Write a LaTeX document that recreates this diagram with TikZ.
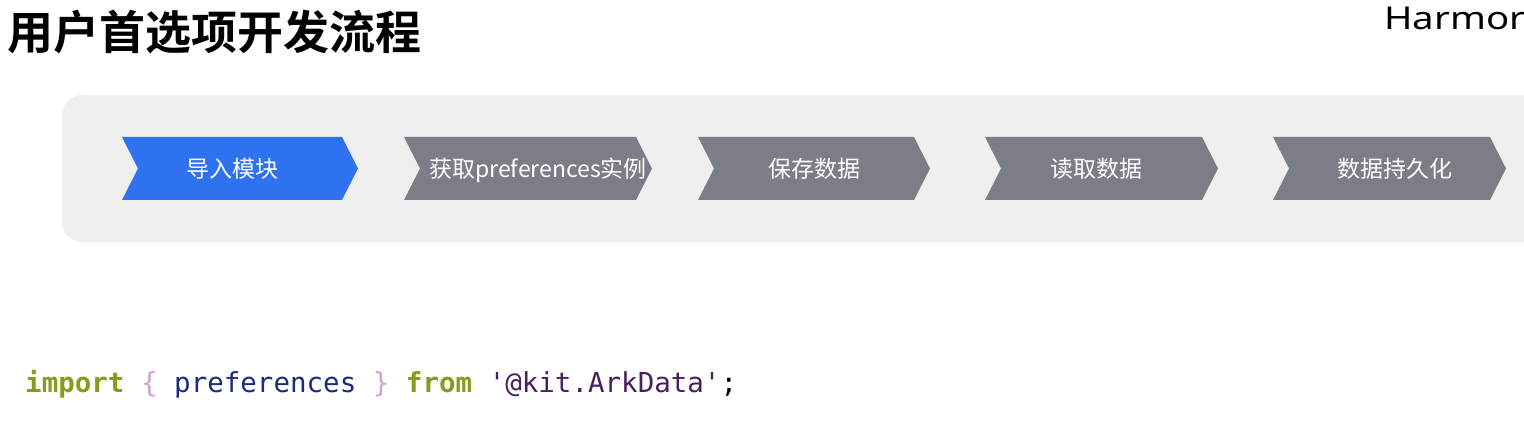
\documentclass[tikz,border=0pt]{standalone}
\usepackage{fontspec}
\setmainfont{Noto Sans}
\setmonofont{DejaVu Sans Mono}
\newfontfamily\cjk{Noto Sans CJK SC}
\newfontfamily\cjkbold{Noto Sans CJK SC Bold}
\definecolor{panelgray}{HTML}{EFEFF0}
\definecolor{stepblue}{HTML}{2F72F0}
\definecolor{stepgray}{HTML}{7B7E87}
\definecolor{kwolive}{HTML}{8A9A1E}
\definecolor{bracepink}{HTML}{D7A0CC}
\definecolor{identnavy}{HTML}{1C2B7A}
\definecolor{strpurple}{HTML}{4B1F5E}
\tikzset{
  steptext/.style={text=white, font=\cjk\fontsize{23}{23}\selectfont, inner sep=0pt, anchor=base},
  codetext/.style={font=\ttfamily\fontsize{27.5}{28}\selectfont, inner sep=0pt, anchor=base west}
}
\newcommand{\chevshape}[3]{%
  \fill[#3] (#1,137) -- ({#2-16},137) -- (#2,168.5) -- ({#2-16},200) -- (#1,200) -- ({#1+16},168.5) -- cycle;}
\begin{document}
\begin{tikzpicture}[x=1pt,y=-1pt]
\useasboundingbox (0,0) rectangle (1524,422);
\clip (0,0) rectangle (1524,422);
\fill[white] (0,0) rectangle (1524,422);
% title
\node[inner sep=0pt, anchor=base west, font=\cjkbold\fontsize{46}{46}\selectfont] (title) at (7,50) {用户首选项开发流程};
\node[inner sep=0pt, anchor=base west, font=\fontsize{31.5}{31.5}\selectfont, xscale=1.22] (brand) at (1384,29.5) {Harmor};
% panel
\fill[panelgray, rounded corners=20pt] (62,95) rectangle (1560,242);
% chevrons
\chevshape{122}{358}{stepblue}
\chevshape{404}{652}{stepgray}
\chevshape{698}{930}{stepgray}
\chevshape{985}{1218}{stepgray}
\chevshape{1273}{1506}{stepgray}
\node[steptext] (s1) at (232,178) {导入模块};
\node[steptext] (s2) at (538,178) {获取preferences实例};
\node[steptext] (s3) at (814,178) {保存数据};
\node[steptext] (s4) at (1096,178) {读取数据};
\node[steptext] (s5) at (1395,178) {数据持久化};
% code
\node[codetext] (code) at (25,392) {\textcolor{kwolive}{\bfseries import} \textcolor{bracepink}{\{} \textcolor{identnavy}{preferences} \textcolor{bracepink}{\}} \textcolor{kwolive}{\bfseries from} \textcolor{strpurple}{'@kit.ArkData'};};
\end{tikzpicture}
\end{document}
